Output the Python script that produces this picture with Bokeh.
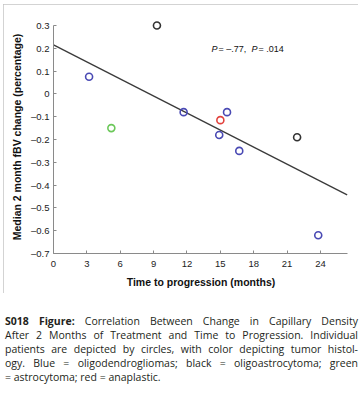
from bokeh.plotting import figure
from bokeh.models import Range1d, FixedTicker, CustomJSTickFormatter, Div, ColumnDataSource
from bokeh.layouts import column
from bokeh.core.properties import value
from bokeh.embed import file_html
from bokeh.resources import INLINE

# ---- data ----
months = [3.2, 5.2, 9.3, 11.7, 15.6, 15.0, 14.9, 16.7, 21.9, 23.8]
fbv_change = [0.075, -0.15, 0.30, -0.08, -0.08, -0.115, -0.18, -0.25, -0.19, -0.62]
histology = ["oligodendroglioma", "astrocytoma", "oligoastrocytoma", "oligodendroglioma",
             "oligodendroglioma", "anaplastic", "oligodendroglioma", "oligodendroglioma",
             "oligoastrocytoma", "oligodendroglioma"]
histology_colors = {"oligodendroglioma": "#4a4ab4", "oligoastrocytoma": "#333333",
                    "astrocytoma": "#6cc85a", "anaplastic": "#e2433e"}
fit_months = [0.0, 26.4]
fit_change = [0.215, -0.443]
x_ticks = [0, 3, 6, 9, 12, 15, 18, 21, 24]
y_ticks = [-0.7, -0.6, -0.5, -0.4, -0.3, -0.2, -0.1, 0.0, 0.1, 0.2, 0.3]
stat_pos = (14.2, 0.197)
stat_parts = ["P", "= \u2013.77,", "P", "= .014"]
stat_italic = [True, False, True, False]
stat_dx = [0, 7, 40, 47]
x_label = "Time to progression (months)"
y_label = "Median 2 month fBV change (percentage)"
caption_lines = [
    "<b>S018 Figure:</b> Correlation Between Change in Capillary Density",
    "After 2 Months of Treatment and Time to Progression. Individual",
    "patients are depicted by circles, with color depicting tumor histol-",
    "ogy. Blue = oligodendrogliomas; black = oligoastrocytoma; green",
    "= astrocytoma; red = anaplastic.",
]

FONT = "Liberation Sans"

p = figure(width=355, height=289, output_backend="svg", toolbar_location=None,
           x_range=Range1d(0, 26.52), y_range=Range1d(-0.7, 0.322),
           min_border_left=50, min_border_right=10, min_border_top=16, min_border_bottom=40)
p.margin = (4, 5, 0, 3)
p.styles = {"outline": "1px solid #c4c4c4", "outline-offset": "-1px"}
p.grid.visible = False
p.outline_line_color = None
p.background_fill_color = "white"
p.border_fill_color = "white"

# regression line
p.line(fit_months, fit_change, line_color="#3a3a3a", line_width=1.3)

# points
src = ColumnDataSource(dict(x=months, y=fbv_change,
                            c=[histology_colors[h] for h in histology]))
p.scatter("x", "y", source=src, marker="circle", size=7, fill_color=None,
          line_color="c", line_width=1.6)

# statistics text
for italic in (True, False):
    xs, ys, ts, ds = [], [], [], []
    for t, it, dx in zip(stat_parts, stat_italic, stat_dx):
        if it == italic:
            xs.append(stat_pos[0]); ys.append(stat_pos[1]); ts.append(t); ds.append(dx)
    tsrc = ColumnDataSource(dict(x=xs, y=ys, t=ts, dx=ds))
    p.text(x="x", y="y", text="t", x_offset="dx", source=tsrc, text_font=value(FONT),
           text_font_size="9px",
           text_font_style="italic" if italic else "normal", text_color="#111111",
           text_baseline="middle", text_align="left")

fmt = CustomJSTickFormatter(code="""
    if (Math.abs(tick) < 1e-9) return "0";
    const s = Math.abs(tick).toFixed(1);
    return tick < 0 ? "\\u2013" + s : s;
""")

for ax in (p.xaxis[0], p.yaxis[0]):
    ax.axis_line_color = "#8a8a8a"
    ax.major_tick_line_color = "#8a8a8a"
    ax.major_tick_in = 3
    ax.major_tick_out = 0
    ax.minor_tick_line_color = None
    ax.major_label_text_font = FONT
    ax.major_label_text_font_size = "9.5px"
    ax.major_label_text_color = "#222222"
    ax.axis_label_text_font = FONT
    ax.axis_label_text_font_size = "10.5px"
    ax.axis_label_text_font_style = "bold"
    ax.axis_label_text_color = "#111111"

p.xaxis.ticker = FixedTicker(ticks=x_ticks)
p.xaxis.bounds = (0, 26.4)
p.xaxis.major_label_standoff = 7
p.xaxis.axis_label = x_label
p.xaxis.axis_label_standoff = 6

p.yaxis.ticker = FixedTicker(ticks=y_ticks)
p.yaxis.formatter = fmt
p.yaxis.bounds = (-0.7, 0.3)
p.yaxis.major_label_standoff = 4
p.yaxis.axis_label = y_label
p.yaxis.axis_label_standoff = 5

line_divs = []
for i, ln in enumerate(caption_lines):
    last = "left" if i == len(caption_lines) - 1 else "justify"
    line_divs.append(
        f'<div style="text-align:justify;text-align-last:{last};white-space:nowrap;">{ln}</div>')
caption_html = ('<div style="padding-top:21px;font-family:\'Open Sans\';font-size:10.5px;'
                'line-height:14px;color:#231f20;width:353px;">' + "".join(line_divs) + '</div>')
caption = Div(text=caption_html, width=353, height=104, margin=(0, 0, 0, 5))

layout = column(p, caption)
open("out.html", "w").write(file_html(layout, INLINE))
